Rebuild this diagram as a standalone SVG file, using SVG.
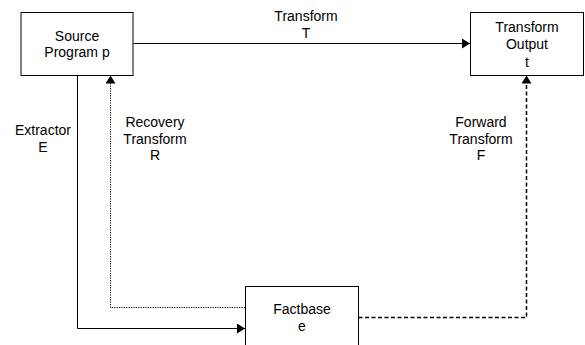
<svg xmlns="http://www.w3.org/2000/svg" width="585" height="345" viewBox="0 0 585 345">
<style>
.box{fill:#fff;stroke:#000;stroke-width:1}
.t{font-family:"Liberation Sans",Arial,sans-serif;font-size:14px;fill:#000;text-anchor:middle}
.c{fill:none;stroke:#000;stroke-width:1}
.dot{stroke-dasharray:1.2 1.2}
.dash{stroke-width:1.5;stroke-dasharray:4 2.5}
</style>
<defs>
<marker id="ah" viewBox="0 0 8 10" refX="8" refY="5" markerWidth="8" markerHeight="10" markerUnits="userSpaceOnUse" orient="auto">
<path d="M0,0 L8,5 L0,10 Z" fill="#000"/>
</marker>
</defs>
<rect width="585" height="345" fill="#fff"/>
<g id="connectors">
<path class="c" d="M133.5,43.5 H470" marker-end="url(#ah)"/>
<path class="c" d="M77.5,75.5 V328.5 H245" marker-end="url(#ah)"/>
<path class="c dot" d="M245,307.5 H110.5 V75.5" marker-end="url(#ah)"/>
<path class="c dash" d="M358.5,317.5 H526.5 V75.5" marker-end="url(#ah)"/>
</g>
<g id="source">
<rect class="box" x="21" y="12.5" width="112" height="63"/>
<text class="t" x="77" y="40.5">Source</text>
<text class="t" x="77" y="57">Program p</text>
</g>
<g id="output">
<rect class="box" x="470.5" y="12.5" width="113" height="63"/>
<text class="t" x="527" y="32">Transform</text>
<text class="t" x="527" y="49">Output</text>
<text class="t" x="527" y="66.5">t</text>
</g>
<g id="factbase">
<rect class="box" x="245.5" y="286.5" width="113" height="70"/>
<text class="t" x="302" y="314">Factbase</text>
<text class="t" x="302" y="331">e</text>
</g>
<g id="labels">
<text class="t" x="306" y="21">Transform</text>
<text class="t" x="306" y="37.5">T</text>
<text class="t" x="43" y="135">Extractor</text>
<text class="t" x="43" y="152">E</text>
<text class="t" x="155" y="127">Recovery</text>
<text class="t" x="155" y="143.5">Transform</text>
<text class="t" x="155" y="160">R</text>
<text class="t" x="481" y="127">Forward</text>
<text class="t" x="481" y="143.5">Transform</text>
<text class="t" x="481" y="160">F</text>
</g>
</svg>
